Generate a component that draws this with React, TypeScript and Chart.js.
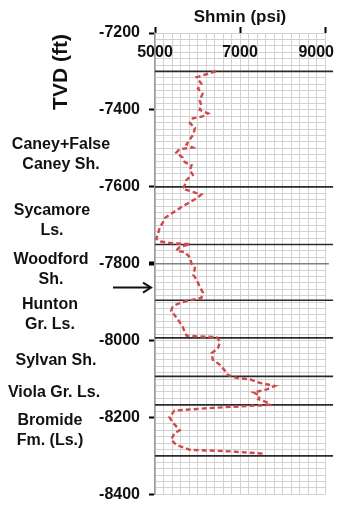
import React, { useEffect, useRef } from "react";
import { Chart, registerables } from "chart.js";

Chart.register(...registerables);

// ---- data ----
const depthFt = [
  -7300, -7315, -7332, -7345, -7358, -7375, -7388, -7400, -7409, -7417,
  -7422, -7434, -7447, -7464, -7477, -7490, -7498, -7502, -7511, -7524,
  -7536, -7544, -7557, -7569, -7582, -7596, -7604, -7608, -7620, -7630,
  -7651, -7668, -7681, -7694, -7706, -7723, -7735, -7742, -7747, -7749,
  -7757, -7766, -7770, -7783, -7800, -7812, -7829, -7842, -7859, -7876,
  -7889, -7897, -7906, -7913, -7923, -7939, -7952, -7964, -7977, -7987,
  -7989, -7991, -8003, -8020, -8033, -8050, -8063, -8079, -8088, -8097,
  -8101, -8110, -8118, -8127, -8135, -8144, -8152, -8162, -8167, -8171,
  -8176, -8182, -8199, -8212, -8233, -8241, -8258, -8271, -8284, -8288,
  -8294,
];
const shminPsi = [
  6430, 5980, 6090, 6010, 6120, 6050, 6090, 6050, 6250, 6120,
  5890, 5820, 5940, 5900, 5820, 5740, 5890, 5580, 5500, 5650,
  5700, 5860, 5820, 5890, 5740, 5700, 5650, 5740, 6090, 5980,
  5650, 5410, 5230, 5180, 5110, 5070, 5030, 5110, 5410, 5820,
  5580, 5500, 5700, 5820, 5860, 5940, 5900, 5980, 6050, 6130,
  6090, 5740, 5500, 5410, 5380, 5500, 5580, 5650, 5700, 5740,
  5980, 6450, 6530, 6480, 6330, 6360, 6530, 6650, 6690, 6920,
  7240, 7470, 7820, 7630, 7320, 7470, 7430, 7670, 7710, 7000,
  6210, 5460, 5340, 5410, 5580, 5460, 5380, 5500, 5820, 6760,
  7550,
];
const formationTopsFt = [-7300, -7600, -7750, -7895, -7993, -8093, -8167, -8300];
const markerDepthFt = -7800;
const yMajorTicks = [-7200, -7400, -7600, -7800, -8000, -8200, -8400];
const xMajorTicks = [5000, 7000, 9000];
const formationNames = [
  ["Caney+False", "Caney Sh."],
  ["Sycamore", "Ls."],
  ["Woodford", "Sh."],
  ["Hunton", "Gr. Ls."],
  ["Sylvan Sh."],
  ["Viola Gr. Ls."],
  ["Bromide", "Fm. (Ls.)"],
];
const formationLabelDepthFt = [-7516, -7687, -7815, -7933, -8051, -8135, -8234];
const arrowDepthFt = -7862;

// ---- layout / style ----
const W = 338;
const H = 513;
const FONT = '"Liberation Sans", Arial, sans-serif';
const labelCenterX = [61, 52, 51, 50, 56, 54, 50];
const Y_MIN = -8400;
const Y_MAX = -7200;
const Y_MINOR = 200 / 12;
const X_MIN = 5000;
const X_MAX = 9000;
const X_MINOR = 200;
const LINE_END_PSI = 9190;
const MARKER_END_PSI = 9090;

const isMajorY = (v: number) => yMajorTicks.some((m) => Math.abs(m - v) < 1e-6);
const isMajorX = (v: number) => xMajorTicks.some((m) => Math.abs(m - v) < 1e-6);

const textPlugin = {
  id: "textPlugin",
  afterDraw(chart: any) {
    const ctx = chart.ctx as CanvasRenderingContext2D;
    const xs = chart.scales.x;
    const ys = chart.scales.y;
    ctx.save();
    ctx.fillStyle = "#111";
    ctx.textBaseline = "middle";

    // x title
    ctx.font = `bold 17px ${FONT}`;
    ctx.textAlign = "center";
    ctx.fillText("Shmin (psi)", (xs.left + xs.right) / 2, 17);

    // x tick labels (inside plot, below top axis)
    ctx.font = `bold 16px ${FONT}`;
    xMajorTicks.forEach((v) => {
      const px = xs.getPixelForValue(v);
      const w = ctx.measureText(String(v)).width;
      let cx = px;
      if (cx + w / 2 > W - 4) cx = W - 4 - w / 2;
      ctx.textAlign = "center";
      ctx.fillText(String(v), cx, ys.top + 20);
    });

    // y title rotated
    ctx.save();
    ctx.translate(61, 72);
    ctx.rotate(-Math.PI / 2);
    ctx.font = `bold 21px ${FONT}`;
    ctx.textAlign = "center";
    ctx.fillText("TVD (ft)", 0, 0);
    ctx.restore();

    // formation labels
    ctx.font = `bold 16px ${FONT}`;
    ctx.textAlign = "center";
    formationNames.forEach((lines, i) => {
      const cy = ys.getPixelForValue(formationLabelDepthFt[i]);
      const lh = 20;
      const start = cy - ((lines.length - 1) * lh) / 2;
      lines.forEach((t, j) => ctx.fillText(t, labelCenterX[i], start + j * lh));
    });

    // arrow
    const ay = ys.getPixelForValue(arrowDepthFt);
    ctx.strokeStyle = "#111";
    ctx.lineWidth = 2;
    ctx.beginPath();
    ctx.moveTo(113, ay);
    ctx.lineTo(150, ay);
    ctx.stroke();
    ctx.beginPath();
    ctx.moveTo(143, ay - 5);
    ctx.lineTo(151, ay);
    ctx.lineTo(143, ay + 5);
    ctx.stroke();

    ctx.restore();
  },
};

export default function App() {
  const ref = useRef<HTMLCanvasElement | null>(null);

  useEffect(() => {
    if (!ref.current) return;
    const curve = depthFt.map((d, i) => ({ x: shminPsi[i], y: d }));
    const formationSets = formationTopsFt.map((d) => ({
      type: "line" as const,
      data: [
        { x: X_MIN, y: d },
        { x: LINE_END_PSI, y: d },
      ],
      borderColor: "#2a2a2a",
      borderWidth: 1.7,
      pointRadius: 0,
      clip: false as any,
      order: 2,
    }));
    const chart = new Chart(ref.current, {
      type: "line",
      data: {
        datasets: [
          {
            data: curve,
            borderColor: "#cf4a4a",
            borderWidth: 2.4,
            borderDash: [5, 3],
            pointRadius: 0,
            tension: 0,
            order: 0,
          } as any,
          {
            data: [
              { x: X_MIN, y: markerDepthFt },
              { x: MARKER_END_PSI, y: markerDepthFt },
            ],
            borderColor: "#808080",
            borderWidth: 1.5,
            pointRadius: 0,
            clip: false,
            order: 1,
          } as any,
          ...formationSets,
        ],
      },
      options: {
        animation: false,
        responsive: false,
        maintainAspectRatio: false,
        events: [],
        layout: { padding: { left: 0, right: 13, top: 0, bottom: 12 } },
        plugins: { legend: { display: false }, tooltip: { enabled: false } },
        scales: {
          x: {
            type: "linear",
            position: "top",
            min: X_MIN,
            max: X_MAX,
            afterBuildTicks: (scale: any) => {
              const t: any[] = [];
              for (let v = X_MIN; v <= X_MAX + 1e-6; v += X_MINOR) t.push({ value: v });
              scale.ticks = t;
            },
            afterFit: (scale: any) => {
              scale.height = 33;
            },
            ticks: { display: false, autoSkip: false },
            border: { display: false },
            grid: {
              color: "#d2d2d2",
              lineWidth: 1,
              drawTicks: true,
              tickLength: 6,
              tickColor: (c: any) => (c.tick && isMajorX(c.tick.value) ? "#000" : "rgba(0,0,0,0)"),
              tickWidth: 2,
            },
          },
          y: {
            type: "linear",
            min: Y_MIN,
            max: Y_MAX,
            afterBuildTicks: (scale: any) => {
              const t: any[] = [];
              for (let i = 72; i >= 0; i--) t.push({ value: Y_MAX - i * Y_MINOR });
              scale.ticks = t;
            },
            afterFit: (scale: any) => {
              scale.width = 155;
            },
            ticks: {
              autoSkip: false,
              padding: 9,
              color: "#111",
              font: { family: FONT, size: 16, weight: "bold" },
              callback: (v: any) => (isMajorY(Number(v)) ? String(Math.round(Number(v))) : ""),
            },
            border: { display: true, color: "#9a9a9a", width: 1.5 },
            grid: {
              color: "#d2d2d2",
              lineWidth: 1,
              drawTicks: true,
              tickLength: 6,
              tickColor: (c: any) => (c.tick && isMajorY(c.tick.value) ? "#000" : "rgba(0,0,0,0)"),
              tickWidth: (c: any) =>
                c.tick && Math.abs(c.tick.value - markerDepthFt) < 1e-6 ? 4 : 2,
            },
          },
        },
      } as any,
      plugins: [textPlugin],
    });
    return () => chart.destroy();
  }, []);

  return (
    <div style={{ position: "fixed", left: 0, top: 0, width: W, height: H, background: "#fff" }}>
      <canvas ref={ref} width={W} height={H} style={{ width: W, height: H, display: "block" }} />
    </div>
  );
}
